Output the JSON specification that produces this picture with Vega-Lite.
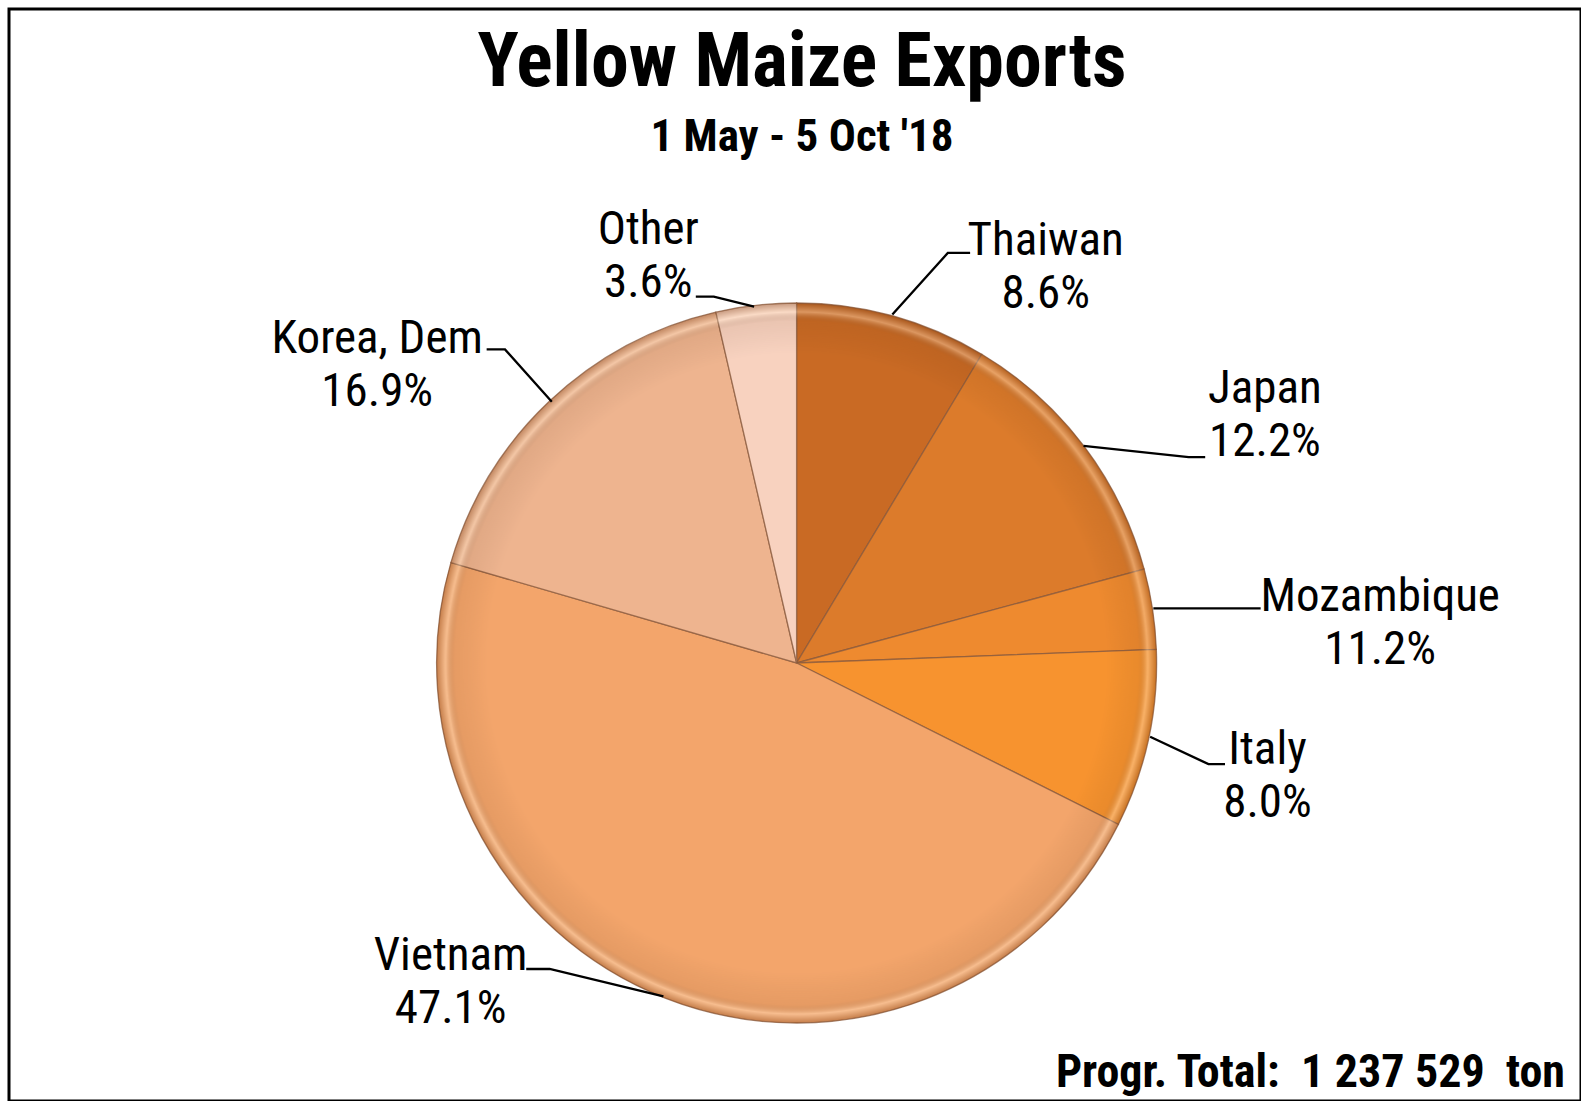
{
  "$schema": "https://vega.github.io/schema/vega-lite/v6.json",
  "width": 1572,
  "height": 1092,
  "autosize": {"type": "none"},
  "padding": {"left": 9, "top": 9, "right": 0, "bottom": 0},
  "background": "white",
  "config": {
    "view": {"stroke": "#000000", "strokeWidth": 3},
    "font": "Roboto Condensed, Roboto, sans-serif"
  },
  "title": {
    "text": "Yellow Maize Exports",
    "subtitle": "1 May - 5 Oct '18",
    "anchor": "middle",
    "frame": "group",
    "font": "Roboto Condensed, Roboto, sans-serif",
    "fontSize": 76,
    "fontWeight": "bold",
    "color": "#000000",
    "subtitleFont": "Roboto Condensed, Roboto, sans-serif",
    "subtitleFontSize": 45,
    "subtitleFontWeight": "bold",
    "subtitleColor": "#000000",
    "subtitlePadding": 13,
    "offset": -152,
    "dx": 7
  },
  "datasets": {
    "slices": [
      {"country": "Thaiwan", "share": 8.6, "order": 1},
      {"country": "Japan", "share": 12.2, "order": 2},
      {"country": "Mozambique", "share": 3.6, "order": 3},
      {"country": "Italy", "share": 8.0, "order": 4},
      {"country": "Vietnam", "share": 47.1, "order": 5},
      {"country": "Korea, Dem", "share": 16.9, "order": 6},
      {"country": "Other", "share": 3.6, "order": 7}
    ],
    "labels": [
      {"country": "Thaiwan", "text": "Thaiwan\n8.6%", "ux": 0.692, "uy": 1.133},
      {"country": "Japan", "text": "Japan\n12.2%", "ux": 1.301, "uy": 0.722},
      {"country": "Mozambique", "text": "Mozambique\n11.2%", "ux": 1.621, "uy": 0.145},
      {"country": "Italy", "text": "Italy\n8.0%", "ux": 1.308, "uy": -0.281},
      {"country": "Vietnam", "text": "Vietnam\n47.1%", "ux": -0.961, "uy": -0.853},
      {"country": "Korea, Dem", "text": "Korea, Dem\n16.9%", "ux": -1.165, "uy": 0.861},
      {"country": "Other", "text": "Other\n3.6%", "ux": -0.412, "uy": 1.164}
    ],
    "leaders": [
      {"country": "Thaiwan", "seq": 1, "ux": 0.266, "uy": 0.968},
      {"country": "Thaiwan", "seq": 2, "ux": 0.420, "uy": 1.139},
      {"country": "Thaiwan", "seq": 3, "ux": 0.482, "uy": 1.139},
      {"country": "Japan", "seq": 1, "ux": 0.797, "uy": 0.603},
      {"country": "Japan", "seq": 2, "ux": 1.089, "uy": 0.572},
      {"country": "Japan", "seq": 3, "ux": 1.135, "uy": 0.572},
      {"country": "Mozambique", "seq": 1, "ux": 0.991, "uy": 0.152},
      {"country": "Mozambique", "seq": 2, "ux": 1.289, "uy": 0.152},
      {"country": "Italy", "seq": 1, "ux": 0.982, "uy": -0.205},
      {"country": "Italy", "seq": 2, "ux": 1.144, "uy": -0.281},
      {"country": "Italy", "seq": 3, "ux": 1.190, "uy": -0.281},
      {"country": "Vietnam", "seq": 1, "ux": -0.370, "uy": -0.926},
      {"country": "Vietnam", "seq": 2, "ux": -0.686, "uy": -0.850},
      {"country": "Vietnam", "seq": 3, "ux": -0.751, "uy": -0.850},
      {"country": "Korea, Dem", "seq": 1, "ux": -0.680, "uy": 0.726},
      {"country": "Korea, Dem", "seq": 2, "ux": -0.810, "uy": 0.871},
      {"country": "Korea, Dem", "seq": 3, "ux": -0.861, "uy": 0.871},
      {"country": "Other", "seq": 1, "ux": -0.118, "uy": 0.990},
      {"country": "Other", "seq": 2, "ux": -0.230, "uy": 1.018},
      {"country": "Other", "seq": 3, "ux": -0.280, "uy": 1.018}
    ],
    "note": [
      {"note": "Progr. Total:\u00a0\u00a01 237 529\u00a0\u00a0ton"}
    ]
  },
  "layer": [
    {
      "data": {"name": "slices"},
      "mark": {"type": "arc", "outerRadius": 360, "stroke": "#8a5a3c", "strokeWidth": 1.3, "strokeOpacity": 0.75},
      "encoding": {
        "theta": {"field": "share", "type": "quantitative", "stack": true},
        "order": {"field": "order", "type": "quantitative"},
        "color": {
          "field": "country",
          "type": "nominal",
          "scale": {
            "domain": ["Thaiwan", "Japan", "Mozambique", "Italy", "Vietnam", "Korea, Dem", "Other"],
            "range": ["#C96A24", "#DC7B2B", "#EE8A2F", "#F7932F", "#F3A56B", "#EEB48F", "#F8D2BF"]
          },
          "legend": null
        },
        "x": {"datum": 0, "type": "quantitative", "scale": {"domain": [-2.1878, 2.1789], "nice": false, "zero": false}, "axis": null},
        "y": {"datum": 0, "type": "quantitative", "scale": {"domain": [-1.2167, 1.8167], "nice": false, "zero": false}, "axis": null}
      }
    },
    {
      "data": {"values": [{"ring": "pie"}]},
      "mark": {
        "type": "arc",
        "outerRadius": 360,
        "theta": 0,
        "theta2": 6.2832,
        "fill": {
          "gradient": "radial",
          "x1": 0.5, "y1": 0.5, "r1": 0,
          "x2": 0.5, "y2": 0.5, "r2": 0.5,
          "stops": [
            {"offset": 0, "color": "rgba(0,0,0,0)"},
            {"offset": 0.86, "color": "rgba(0,0,0,0)"},
            {"offset": 0.95, "color": "rgba(60,25,0,0.07)"},
            {"offset": 0.975, "color": "rgba(255,235,210,0.35)"},
            {"offset": 1, "color": "rgba(110,50,10,0.35)"}
          ]
        }
      },
      "encoding": {
        "x": {"datum": 0, "type": "quantitative"},
        "y": {"datum": 0, "type": "quantitative"}
      }
    },
    {
      "data": {"name": "leaders"},
      "mark": {"type": "line", "color": "#000000", "strokeWidth": 2.3, "interpolate": "linear"},
      "encoding": {
        "x": {"field": "ux", "type": "quantitative"},
        "y": {"field": "uy", "type": "quantitative"},
        "detail": {"field": "country", "type": "nominal"},
        "order": {"field": "seq", "type": "quantitative"}
      }
    },
    {
      "data": {"name": "labels"},
      "mark": {
        "type": "text",
        "align": "center",
        "baseline": "alphabetic",
        "lineBreak": "\n",
        "fontSize": 47,
        "lineHeight": 53,
        "color": "#000000",
        "font": "Roboto Condensed, Roboto, sans-serif"
      },
      "encoding": {
        "x": {"field": "ux", "type": "quantitative"},
        "y": {"field": "uy", "type": "quantitative"},
        "text": {"field": "text", "type": "nominal"}
      }
    },
    {
      "data": {"name": "note"},
      "mark": {
        "type": "text",
        "x": "width",
        "y": "height",
        "dx": -16,
        "dy": -14,
        "align": "right",
        "baseline": "alphabetic",
        "fontSize": 46,
        "fontWeight": "bold",
        "color": "#000000",
        "font": "Roboto Condensed, Roboto, sans-serif"
      },
      "encoding": {
        "text": {"field": "note", "type": "nominal"}
      }
    }
  ]
}
